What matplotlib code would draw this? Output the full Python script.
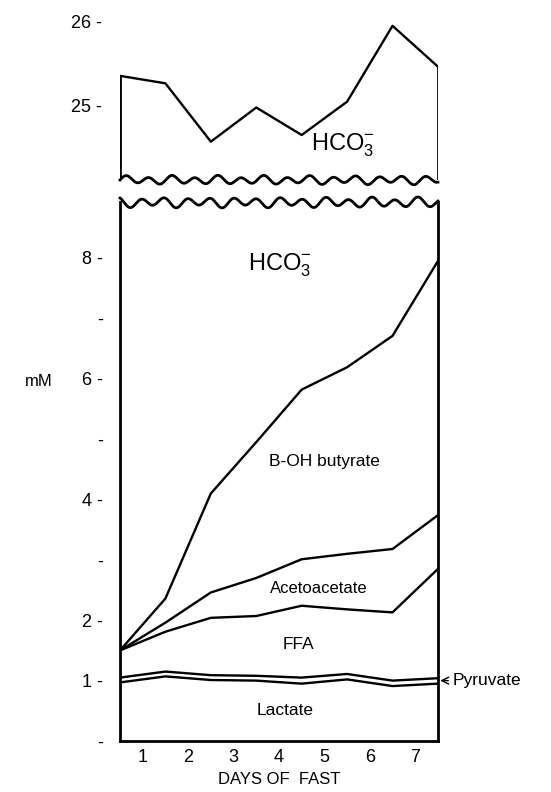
import numpy as np
import matplotlib
matplotlib.use("Agg")
import matplotlib.pyplot as plt

plt.rcParams['font.family'] = ['Liberation Sans', 'DejaVu Sans']
plt.rcParams['mathtext.default'] = 'regular'

# ---- data (cumulative upper boundaries, mM) ----
day_points = [0.5, 1.5, 2.5, 3.5, 4.5, 5.5, 6.5, 7.5]
day_ticks = [1, 2, 3, 4, 5, 6, 7]
day_labels = ["1", "2", "3", "4", "5", "6", "7"]
hco3 = [25.35, 25.26, 24.56, 24.97, 24.64, 25.04, 25.95, 25.46]
lactate_top = [0.97, 1.07, 1.01, 1.00, 0.95, 1.02, 0.91, 0.95]
pyruvate_top = [1.05, 1.15, 1.09, 1.08, 1.05, 1.11, 1.00, 1.04]
ffa_top = [1.50, 1.81, 2.04, 2.07, 2.24, 2.18, 2.13, 2.85]
acetoacetate_top = [1.50, 1.96, 2.46, 2.70, 3.01, 3.10, 3.18, 3.74]
butyrate_top = [1.50, 2.36, 4.10, 4.95, 5.82, 6.19, 6.71, 7.95]

top_ticks = [25, 26]
top_tick_labels = ["25 -", "26 -"]
bottom_ticks = [0, 1, 2, 3, 4, 5, 6, 7, 8]
bottom_tick_labels = ["-", "1 -", "2 -", "-", "4 -", "-", "6 -", "-", "8 -"]

fig = plt.figure(figsize=(5.51, 7.92), dpi=100)
left, width = 0.2178, 0.577
ax_top = fig.add_axes([left, 0.7727, width, 0.221])
ax = fig.add_axes([left, 0.0644, width, 0.680])

LW = 1.7
SW = 2.0


def wave(xs, phase, amp, base):
    return base + amp * (np.sin(2 * np.pi * 13.8 * xs + phase)
                         + 0.35 * np.sin(2 * np.pi * 7.3 * xs + 1.3 * phase))


# ---- top panel (HCO3-) ----
ax_top.set_xlim(0.5, 7.5)
ax_top.set_ylim(24.1, 26.2)
for s in ax_top.spines.values():
    s.set_visible(False)
ax_top.plot(day_points, hco3, color='black', lw=LW)
ax_top.plot([day_points[0], day_points[0]], [24.1, hco3[0]], color='black', lw=SW)
ax_top.plot([day_points[-1], day_points[-1]], [24.1, hco3[-1]], color='black', lw=SW)
xs = np.linspace(0, 1, 600)
ax_top.plot(xs, wave(xs, 0.0, 0.02, 0.0), color='black', lw=SW,
            transform=ax_top.transAxes, clip_on=False)
ax_top.set_xticks([])
ax_top.set_yticks(top_ticks)
ax_top.set_yticklabels(top_tick_labels, fontsize=13)
ax_top.tick_params(axis='y', length=0, pad=13)
ax_top.text(5.4, 24.52, r"HCO$_3^{-}$", fontsize=17, ha='center', va='center')

# ---- bottom panel ----
ax.set_xlim(0.5, 7.5)
ax.set_ylim(0, 8.92)
ax.spines['top'].set_visible(False)
for k in ('left', 'right', 'bottom'):
    ax.spines[k].set_linewidth(SW)
for series in (lactate_top, pyruvate_top, ffa_top, acetoacetate_top, butyrate_top):
    ax.plot(day_points, series, color='black', lw=LW)
ax.plot(xs, wave(xs, 2.0, 0.0075, 1.0), color='black', lw=SW,
        transform=ax.transAxes, clip_on=False)

ax.set_xticks(day_ticks)
ax.set_xticklabels(day_labels, fontsize=13)
ax.tick_params(axis='x', length=0, pad=6)
ax.set_yticks(bottom_ticks)
ax.set_yticklabels(bottom_tick_labels, fontsize=13)
ax.tick_params(axis='y', length=0, pad=12)
ax.set_xlabel("DAYS OF  FAST", fontsize=12, labelpad=4)

ax.text(4.02, 7.88, r"HCO$_3^{-}$", fontsize=17, ha='center', va='center')
ax.text(5.0, 4.63, "B-OH butyrate", fontsize=12.5, ha='center', va='center')
ax.text(4.88, 2.53, "Acetoacetate", fontsize=12, ha='center', va='center')
ax.text(4.42, 1.59, "FFA", fontsize=12.5, ha='center', va='center')
ax.text(4.13, 0.51, "Lactate", fontsize=12.5, ha='center', va='center')
ax.annotate("Pyruvate", xy=(7.55, 1.0), xytext=(7.82, 1.0),
            xycoords='data', textcoords='data', fontsize=12.5,
            ha='left', va='center', annotation_clip=False,
            arrowprops=dict(arrowstyle='->', color='black', lw=1.0,
                            shrinkA=1, shrinkB=0))
fig.text(25 / 551, 1 - 382 / 792, "mM", fontsize=12, ha='left', va='center')

fig.savefig("out.png", dpi=100)
